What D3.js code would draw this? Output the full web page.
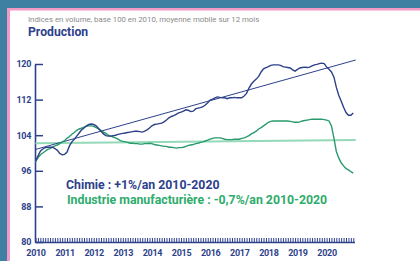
<!DOCTYPE html>
<html>
<head>
<meta charset="utf-8">
<script src="https://cdn.jsdelivr.net/npm/d3@7"></script>
<style>
  html, body { margin: 0; padding: 0; background: #3e80a1; }
  svg { display: block; font-family: Roboto, "Noto Sans", sans-serif; }
</style>
</head>
<body>
<div id="chart"></div>
<script>
// monthly values, jan 2010 -> dec 2020 (12 month moving average)
var chimie = [
  98.2, 99.3, 100.4, 100.9, 101.2, 101.3, 101.3, 101.3, 101.0, 100.6, 99.9, 99.6,
  99.7, 100.2, 101.6, 102.5, 103.1, 103.8, 104.5, 105.2, 105.6, 106.1, 106.4, 106.5,
  106.4, 106.1, 105.5, 104.9, 104.3, 103.9, 103.8, 103.8, 103.9, 104.0, 104.2, 104.3,
  104.4, 104.5, 104.6, 104.7, 104.8, 104.9, 104.9, 104.8, 104.7, 104.9, 105.2, 105.6,
  106.1, 106.4, 106.5, 106.6, 106.7, 107.0, 107.4, 107.9, 108.2, 108.4, 108.7, 109.0,
  109.2, 109.4, 109.7, 109.6, 109.3, 109.4, 109.9, 110.1, 110.2, 110.4, 110.8, 111.3,
  111.9, 112.1, 112.4, 112.6, 112.5, 112.4, 112.4, 112.2, 112.4, 112.4, 112.5, 112.4,
  112.4, 112.4, 112.8, 113.4, 114.6, 115.5, 116.1, 116.6, 117.2, 118.2, 118.9, 119.2,
  119.4, 119.7, 119.8, 119.8, 119.8, 119.7, 119.4, 119.3, 119.2, 119.1, 118.7, 118.4,
  118.8, 119.1, 119.2, 119.3, 119.2, 119.3, 119.6, 119.8, 119.9, 120.1, 120.2, 120.1,
  119.3, 118.8, 118.2, 117.1, 114.8, 113.0, 111.7, 110.3, 109.1, 108.5, 108.5, 109.0
];
var industrie = [
  98.0, 98.9, 99.6, 100.0, 100.4, 100.8, 101.0, 101.3, 101.6, 101.8, 102.1, 102.5,
  102.8, 103.3, 103.7, 104.2, 104.6, 105.1, 105.4, 105.6, 105.8, 106.0, 106.1, 106.1,
  106.0, 105.7, 105.4, 105.1, 104.7, 104.4, 104.0, 103.8, 103.6, 103.4, 103.1, 102.8,
  102.6, 102.5, 102.4, 102.2, 102.2, 102.1, 102.1, 102.0, 102.0, 102.1, 102.1, 102.2,
  102.1, 101.9, 101.8, 101.7, 101.6, 101.5, 101.5, 101.3, 101.3, 101.2, 101.1, 101.2,
  101.2, 101.3, 101.5, 101.7, 101.8, 101.9, 102.1, 102.2, 102.4, 102.5, 102.7, 102.9,
  103.1, 103.3, 103.4, 103.4, 103.4, 103.3, 103.1, 103.0, 103.0, 103.0, 103.1, 103.1,
  103.1, 103.3, 103.4, 103.6, 103.9, 104.3, 104.6, 104.9, 105.4, 105.7, 106.1, 106.5,
  106.9, 107.1, 107.2, 107.2, 107.2, 107.2, 107.2, 107.2, 107.2, 107.1, 107.0, 106.9,
  106.9, 107.0, 107.2, 107.3, 107.4, 107.5, 107.6, 107.6, 107.6, 107.6, 107.6, 107.5,
  107.4, 107.2, 106.1, 103.4, 100.4, 98.9, 97.8, 97.1, 96.5, 96.2, 95.8, 95.5
];
// trend lines: value at start (jan 2010) and end (jan 2021)
var chimieTrend = [100.8, 120.9];
var industrieTrend = [102.2, 102.9];
var trendMonths = [0, 132];

var years = ["2010", "2011", "2012", "2013", "2014", "2015", "2016", "2017", "2018", "2019", "2020"];
var yTicks = [80, 88, 96, 104, 112, 120];

var subtitle = "Indices en volume, base 100 en 2010, moyenne mobile sur 12 mois";
var title = "Production";
var labelChimie = "Chimie : +1%/an 2010-2020";
var labelIndustrie = "Industrie manufacturière : -0,7%/an 2010-2020";

var width = 420, height = 261,
    navy = "#2d418b", green = "#289a6c", lightGreen = "#94d9b8", textGreen = "#2eac6c";

var svg = d3.select("#chart").append("svg")
    .attr("width", width)
    .attr("height", height);

/* card background */
svg.append("rect").attr("x", 0).attr("y", 0).attr("width", width).attr("height", height).attr("fill", "#3e80a1");
svg.append("rect").attr("x", 7).attr("y", 8).attr("width", width).attr("height", height).attr("fill", "#f19ac5");
svg.append("rect").attr("x", 10).attr("y", 10.5).attr("width", width).attr("height", height).attr("fill", "#ffffff");

svg.append("text")
    .attr("x", 28).attr("y", 22)
    .attr("font-size", "7.8px")
    .attr("fill", "#8a8a8a")
    .text(subtitle);

svg.append("text")
    .attr("x", 28).attr("y", 36)
    .attr("font-size", "12.2px")
    .attr("font-weight", "bold")
    .attr("fill", navy)
    .text(title);

/* scales */
var x = d3.scaleLinear().domain([0, 131.5]).range([35.5, 354.5]);
var y = d3.scaleLinear().domain([80, 120]).range([242, 64]);

/* axes */
var yAxis = d3.axisLeft(y)
    .tickValues(yTicks)
    .tickSizeInner(-8)
    .tickSizeOuter(0)
    .tickPadding(4);

var gy = svg.append("g")
    .attr("transform", "translate(35,0)")
    .call(yAxis);

var months = d3.range(0, 132);
var xAxis = d3.axisBottom(x)
    .tickValues(months)
    .tickSizeInner(-4)
    .tickSizeOuter(0)
    .tickPadding(8)
    .tickFormat(function (m) {
        return m % 12 === 0 ? years[m / 12] : "";
    });

var gx = svg.append("g")
    .attr("transform", "translate(0,242)")
    .call(xAxis);

[gx, gy].forEach(function (g) {
    g.select(".domain").attr("stroke", navy).attr("stroke-width", 1.6);
    g.selectAll(".tick line").attr("stroke", navy).attr("stroke-width", 1);
    g.selectAll(".tick text")
        .attr("fill", navy)
        .attr("font-family", "Roboto, sans-serif")
        .attr("font-weight", "bold")
        .attr("font-size", "9px")
        .attr("letter-spacing", "-0.3px");
});
gy.selectAll(".tick line").attr("stroke-width", 1.5);

/* trend lines */
var trendLine = d3.line()
    .x(function (d, i) { return x(trendMonths[i]); })
    .y(function (d) { return y(d); });

svg.append("path")
    .datum(industrieTrend)
    .attr("d", trendLine)
    .attr("fill", "none")
    .attr("stroke", lightGreen)
    .attr("stroke-width", 2);

svg.append("path")
    .datum(chimieTrend)
    .attr("d", trendLine)
    .attr("fill", "none")
    .attr("stroke", navy)
    .attr("stroke-width", 1);

/* series */
var line = d3.line()
    .x(function (d, i) { return x(i); })
    .y(function (d) { return y(d); });

svg.append("path")
    .datum(industrie)
    .attr("d", line)
    .attr("fill", "none")
    .attr("stroke", green)
    .attr("stroke-width", 1.4);

svg.append("path")
    .datum(chimie)
    .attr("d", line)
    .attr("fill", "none")
    .attr("stroke", navy)
    .attr("stroke-width", 1.4);

/* annotations */
svg.append("text")
    .attr("x", 66).attr("y", 189)
    .attr("font-size", "12.3px")
    .attr("font-weight", "bold")
    .attr("fill", navy)
    .text(labelChimie);

svg.append("text")
    .attr("x", 67).attr("y", 204)
    .attr("font-size", "12.3px")
    .attr("font-weight", "bold")
    .attr("fill", textGreen)
    .text(labelIndustrie);
</script>
</body>
</html>
